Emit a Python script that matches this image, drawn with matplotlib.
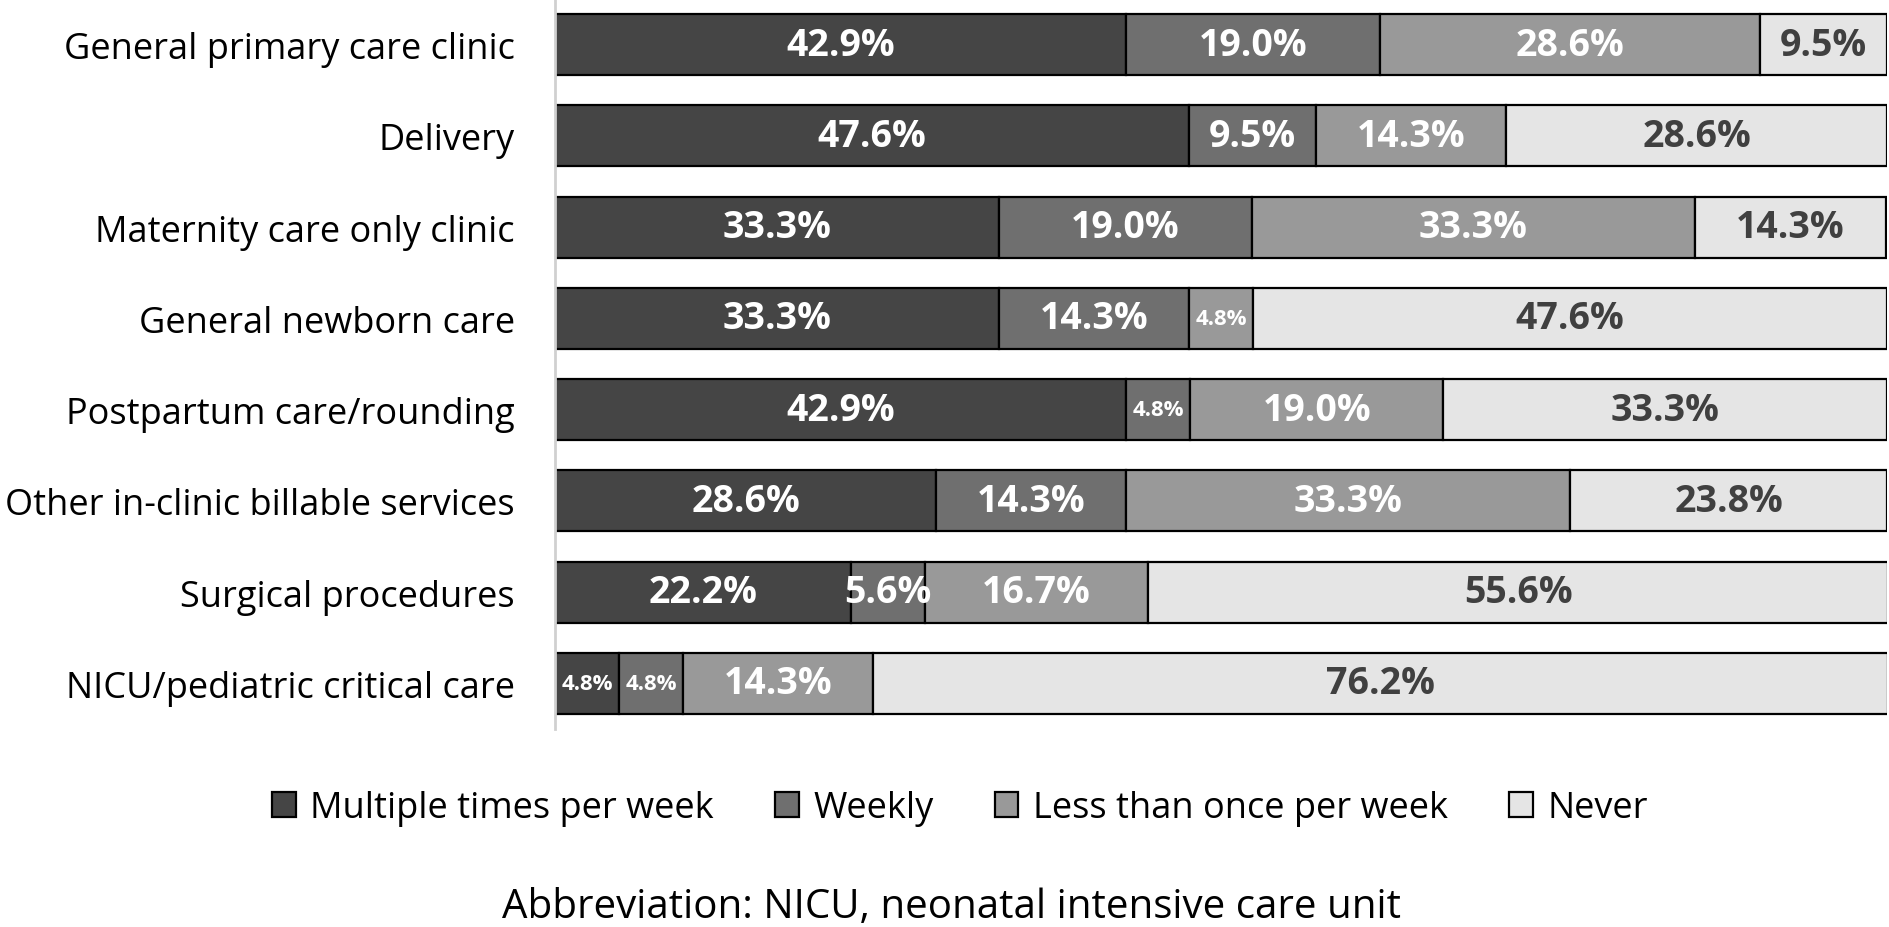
import matplotlib
matplotlib.use('Agg')
import matplotlib.pyplot as plt

plt.rcParams['font.family'] = ['Open Sans', 'DejaVu Sans']

categories = ['General primary care clinic', 'Delivery', 'Maternity care only clinic',
              'General newborn care', 'Postpartum care/rounding',
              'Other in-clinic billable services', 'Surgical procedures',
              'NICU/pediatric critical care']
series_names = ['Multiple times per week', 'Weekly', 'Less than once per week', 'Never']
multiple = [42.9, 47.6, 33.3, 33.3, 42.9, 28.6, 22.2, 4.8]
weekly = [19.0, 9.5, 19.0, 14.3, 4.8, 14.3, 5.6, 4.8]
less_than_weekly = [28.6, 14.3, 33.3, 4.8, 19.0, 33.3, 16.7, 14.3]
never = [9.5, 28.6, 14.3, 47.6, 33.3, 23.8, 55.6, 76.2]
note = 'Abbreviation: NICU, neonatal intensive care unit'

colors = ['#454545', '#6f6f6f', '#999999', '#e5e5e5']
label_colors = ['white', 'white', 'white', '#404040']

fig = plt.figure(figsize=(18.9, 9.28), dpi=100)
ax = fig.add_axes([555 / 1890, 1 - 730 / 928, 1332 / 1890, 730 / 928])

ypos = list(range(len(categories)))
left = [0.0] * len(categories)
for vals, name, col, lcol in zip([multiple, weekly, less_than_weekly, never],
                                 series_names, colors, label_colors):
    bars = ax.barh(ypos, vals, left=left, height=0.67, color=col,
                   edgecolor='black', linewidth=1.6, label=name)
    for b, v in zip(bars, vals):
        small = v < 5
        ax.text(b.get_x() + b.get_width() / 2, b.get_y() + b.get_height() / 2,
                '{:.1f}%'.format(v), ha='center', va='center',
                color=lcol, fontweight='bold', fontsize=16 if small else 27)
    left = [l + v for l, v in zip(left, vals)]

ax.set_xlim(0, 100)
ax.set_ylim(len(categories) - 0.5, -0.5)
ax.set_yticks(ypos)
ax.set_yticklabels(categories, fontsize=26)
ax.tick_params(axis='y', length=0, pad=29)
ax.set_xticks([])
for s in ['top', 'right', 'bottom']:
    ax.spines[s].set_visible(False)
ax.spines['left'].set_color('#d0d0d0')
ax.spines['left'].set_linewidth(2)

fig.legend(loc='center', bbox_to_anchor=(960 / 1890, 1 - 809 / 928), ncol=4,
           frameon=False, fontsize=26, handlelength=0.65, handleheight=0.7,
           handletextpad=0.4, columnspacing=1.7)
fig.text(952 / 1890, 1 - 908 / 928, note, ha='center', va='center', fontsize=29)

fig.savefig('out.png', dpi=100)
